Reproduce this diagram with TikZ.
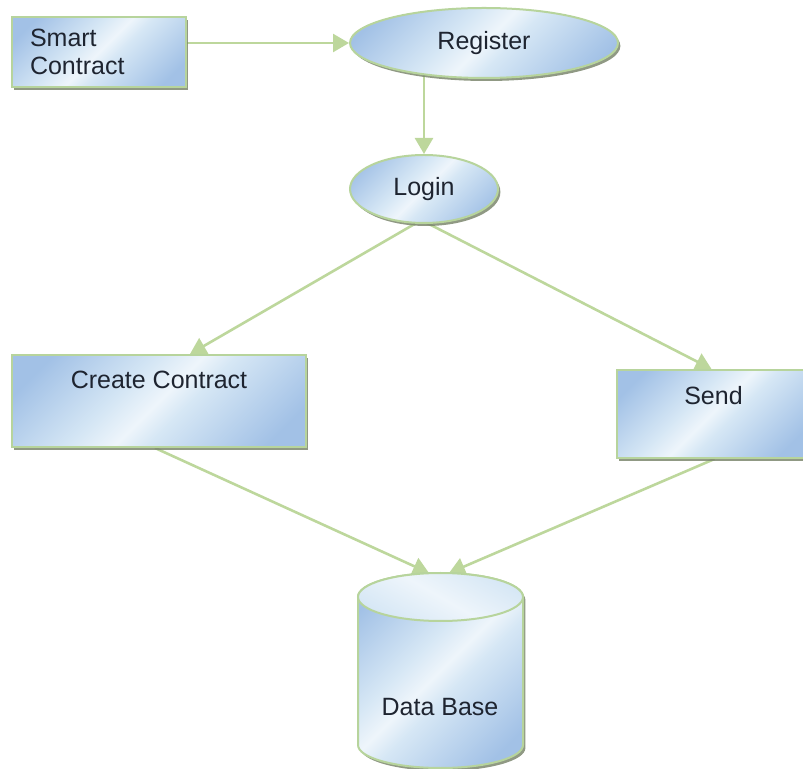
\documentclass[tikz,border=0pt]{standalone}
\usepackage{fontspec}
\setmainfont{Liberation Sans}
\usetikzlibrary{arrows.meta,shadows,backgrounds,calc,shapes.geometric}

\definecolor{edgegreen}{HTML}{B7D49C}
\definecolor{linkgreen}{HTML}{BDD79C}
\definecolor{blueA}{HTML}{A2C1E6}
\definecolor{blueB}{HTML}{D6E7F5}
\definecolor{blueC}{HTML}{EEF5FB}
\definecolor{shadowgray}{HTML}{7C876F}
\definecolor{ink}{HTML}{1E2430}

% glossy blue fill with a pale diagonal streak
\pgfdeclarehorizontalshading{gloss}{100bp}{%
  color(0bp)=(blueA); color(22bp)=(blueA); color(42bp)=(blueB);
  color(50bp)=(blueC); color(56bp)=(blueB); color(78bp)=(blueA);
  color(100bp)=(blueA)}

\tikzset{
  txt/.style={text=ink, font=\fontsize{12.5}{14}\selectfont},
  box/.style={rectangle, draw=edgegreen, line width=1pt, shading=gloss,
    shading angle=-45, inner sep=0pt, txt,
    drop shadow={shadow xshift=1.2pt, shadow yshift=-1.5pt,
      fill=shadowgray, opacity=.85}},
  oval/.style={box, ellipse},
  link/.style={draw=linkgreen, line width=1.3pt,
    -{Triangle[length=8pt,width=9pt]}},
}

\begin{document}
\begin{tikzpicture}[x=0.5pt,y=-0.5pt]
\useasboundingbox (0,0) rectangle (803,769);
\clip (0,0) rectangle (803,769);

% nodes
\node[box, text width=69pt, inner xsep=9pt, minimum height=35pt, align=left]
  (sc) at (99,52) {Smart\\Contract};
\node[oval, minimum width=134pt, minimum height=35pt] (reg) at (484,43) {Register};
\node[oval, minimum width=74pt, minimum height=34pt] (login) at (424,189) {Login};
\node[box, minimum width=147pt, minimum height=46pt,
  label={[txt, yshift=10.5pt]center:Create Contract}] (cc) at (159,401) {};
\node[box, minimum width=94.5pt, minimum height=44pt,
  label={[txt, yshift=9pt, xshift=1pt]center:Send}] (send) at (711.5,414) {};

% database cylinder
\begin{scope}[shift={(440.5,597)}]
  \path[draw=edgegreen, line width=1pt, shading=gloss, shading angle=-45,
    drop shadow={shadow xshift=1.2pt, shadow yshift=-1.5pt,
      fill=shadowgray, opacity=.85}]
    (-41.25pt,0pt) -- (-41.25pt,-74pt)
    arc[start angle=180, end angle=360, x radius=41.25pt, y radius=11.5pt]
    -- (41.25pt,0pt)
    arc[start angle=0, end angle=180, x radius=41.25pt, y radius=12pt]
    -- cycle;
  \path[draw=edgegreen, line width=1pt, left color=blueB, right color=blueB,
    middle color=blueC, shading angle=-30]
    (0pt,0pt) ellipse[x radius=41.25pt, y radius=12pt];
\end{scope}
\node[txt] (db) at (440,707) {Data Base};
\coordinate (dbl) at (429,573);
\coordinate (dbr) at (449,573);

% connectors
\begin{scope}[on background layer]
  \draw[link] (sc.east |- reg.west) -- (reg.west);
  \draw[link] (login.north |- reg.center) -- (login.north);
  \draw[link] ($(login.south)+(-6,-2)$) -- ($(cc.north)+(31,0)$);
  \draw[link] ($(login.south)+(1,-2)$) -- (send.north);
  \draw[link] ($(cc.south)+(-4,0)$) -- (dbl);
  \draw[link] ($(send.south)+(3,0)$) -- (dbr);
\end{scope}
\end{tikzpicture}
\end{document}
